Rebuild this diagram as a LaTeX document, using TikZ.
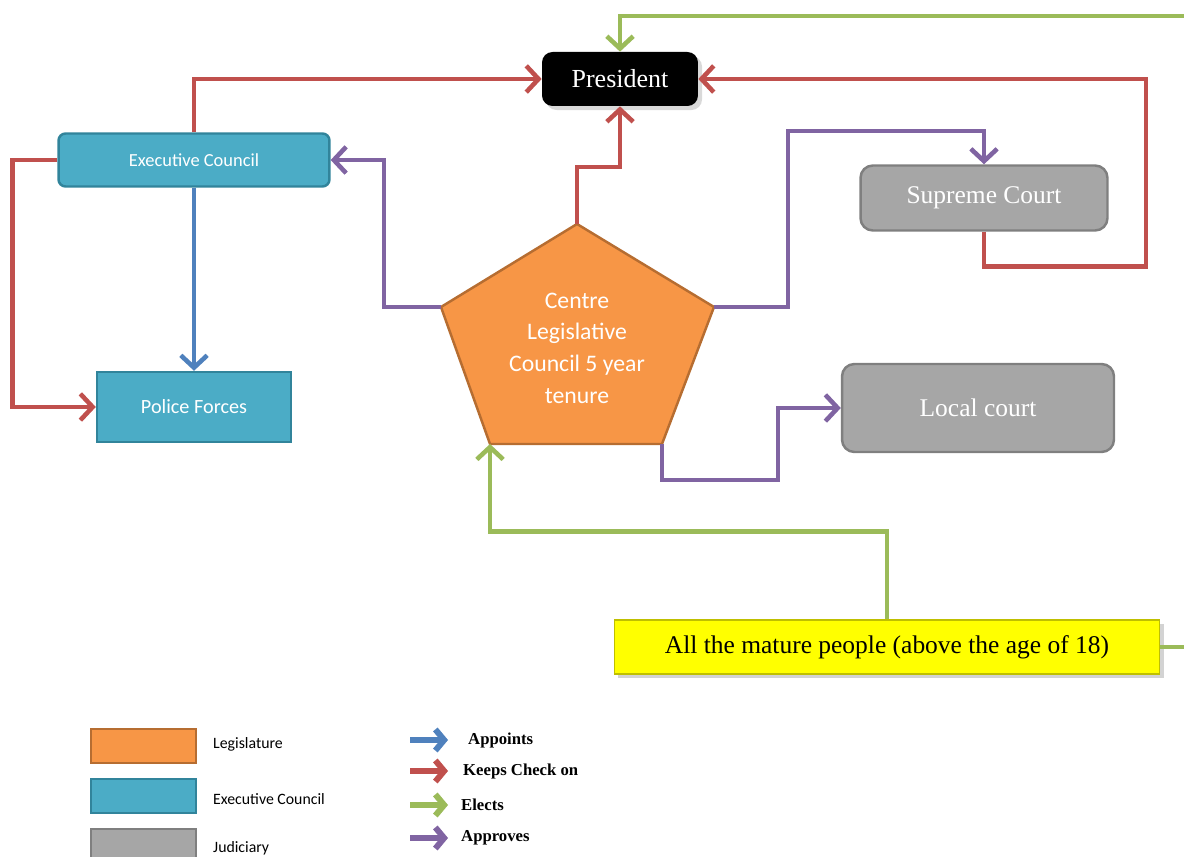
\documentclass[tikz,border=0pt]{standalone}
\usepackage{fontspec}
\setmainfont{Liberation Serif}
\newfontfamily\carlito{Carlito}
\usetikzlibrary{arrows.meta,shadows}

\definecolor{kred}{HTML}{C0504D}
\definecolor{kgreen}{HTML}{9BBB59}
\definecolor{kblue}{HTML}{4F81BD}
\definecolor{kpurple}{HTML}{8064A2}
\definecolor{korange}{HTML}{F79646}
\definecolor{korangedark}{HTML}{B66D31}
\definecolor{kteal}{HTML}{4BACC6}
\definecolor{ktealdark}{HTML}{31849B}
\definecolor{kgray}{HTML}{A6A6A6}
\definecolor{kgraydark}{HTML}{7F7F7F}
\definecolor{kyellow}{HTML}{FFFF00}

\begin{document}
\begin{tikzpicture}[x=0.02cm, y=-0.02cm,
    link/.style={line width=2.6pt, -{Straight Barb[length=7pt,width=15pt]}},
    checks/.style={link, kred},
    elects/.style={link, kgreen},
    appoints/.style={link, kblue},
    approves/.style={link, kpurple},
    execbox/.style={fill=kteal, draw=ktealdark, line width=1.4pt, text=white},
    judgebox/.style={fill=kgray, draw=kgraydark, line width=1.4pt, rounded corners=7pt, text=white,
        font=\fontsize{14.5}{16}\selectfont},
    legbox/.style={minimum width=2.1cm, minimum height=0.68cm, line width=0.8pt},
    legtext/.style={anchor=west, font=\carlito\fontsize{9}{11}\selectfont},
    legarrow/.style={line width=3.4pt, -{Straight Barb[length=5pt,width=12pt]}},
    legname/.style={anchor=west, font=\bfseries\fontsize{9.5}{11}\selectfont}]

    \useasboundingbox (0,0) rectangle (1184,857);

    % Boxes
    \node[fill=black, rounded corners=6pt, text=white, minimum width=3.12cm, minimum height=1.08cm,
        font=\fontsize{14.8}{16}\selectfont, drop shadow={opacity=0.3}] (pres) at (620,79) {President};
    \node[execbox, rounded corners=4pt, minimum width=5.42cm, minimum height=1.06cm,
        font=\carlito\fontsize{10.5}{12}\selectfont] (exec) at (194,160) {Executive Council};
    \node[execbox, minimum width=3.88cm, minimum height=1.4cm,
        font=\carlito\fontsize{11.5}{13}\selectfont] (police) at (194,407) {Police Forces};
    \node[judgebox, minimum width=4.94cm, minimum height=1.3cm] (supreme) at (984,198) {Supreme Court};
    \node[judgebox, minimum width=5.44cm, minimum height=1.76cm] (local) at (978,408) {Local court};
    \node[fill=kyellow, draw=kyellow!75!black, line width=0.6pt, minimum width=10.92cm, minimum height=1.08cm,
        font=\fontsize{14.5}{16}\selectfont, drop shadow={opacity=0.35}] (people) at (887,647)
        {All the mature people (above the age of 18)};

    % Pentagon
    \coordinate (ptop) at (577,224);
    \coordinate (pleft) at (441,307);
    \coordinate (pright) at (714,307);
    \coordinate (pbr) at (662,444);
    \coordinate (pbl) at (490,444);
    \draw[fill=korange, draw=korangedark, line width=1.4pt, line join=round]
        (ptop) -- (pright) -- (pbr) -- (pbl) -- (pleft) -- cycle;
    \node[text=white, align=center, font=\carlito\fontsize{13.5}{18}\selectfont] (legis) at (577,348)
        {Centre\\Legislative\\Council 5 year\\tenure};

    % Elects
    \draw[elects] (people.east) -| (1200,16) -| (pres.north);
    \draw[elects] (people.north) -- ++(0,-88) -| (pbl);

    % Keeps check on
    \draw[checks] (exec.north) |- (pres.west);
    \draw[checks] (ptop) -- ++(0,-57) -| (pres.south);
    \draw[checks] (supreme.south) -- ++(0,35) -| (1146,79) -- (pres.east);
    \draw[checks] (exec.west) -- ++(-45,0) |- (police.west);

    % Appoints
    \draw[appoints] (exec.south) -- (police.north);

    % Approves
    \draw[approves] (pleft) -- ++(-57,0) |- (exec.east);
    \draw[approves] (pright) -| (788,131) -| (supreme.north);
    \draw[approves] (pbr) |- (778,480) |- (local.west);

    % Legend boxes
    \node[legbox, fill=korange, draw=korangedark] (legL) at (143.5,746) {};
    \node[legtext] (tL) at (207,744) {Legislature};
    \node[legbox, fill=kteal, draw=ktealdark] (legE) at (143.5,796) {};
    \node[legtext] (tE) at (207,799) {Executive Council};
    \node[legbox, fill=kgray, draw=kgraydark] (legJ) at (143.5,846) {};
    \node[legtext] (tJ) at (207,848) {Judiciary};

    % Legend arrows
    \coordinate (a1) at (410,740);
    \coordinate (b1) at (448,740);
    \coordinate (a2) at (410,771);
    \coordinate (b2) at (448,771);
    \coordinate (a3) at (410,805);
    \coordinate (b3) at (448,805);
    \coordinate (a4) at (410,838);
    \coordinate (b4) at (448,838);
    \draw[legarrow, kblue] (a1) -- (b1);
    \draw[legarrow, kred] (a2) -- (b2);
    \draw[legarrow, kgreen] (a3) -- (b3);
    \draw[legarrow, kpurple] (a4) -- (b4);
    \node[legname] (tA) at (462,740) {Appoints};
    \node[legname] (tK) at (457,771) {Keeps Check on};
    \node[legname] (tEl) at (455,805) {Elects};
    \node[legname] (tAp) at (455,838) {Approves};
\end{tikzpicture}
\end{document}
